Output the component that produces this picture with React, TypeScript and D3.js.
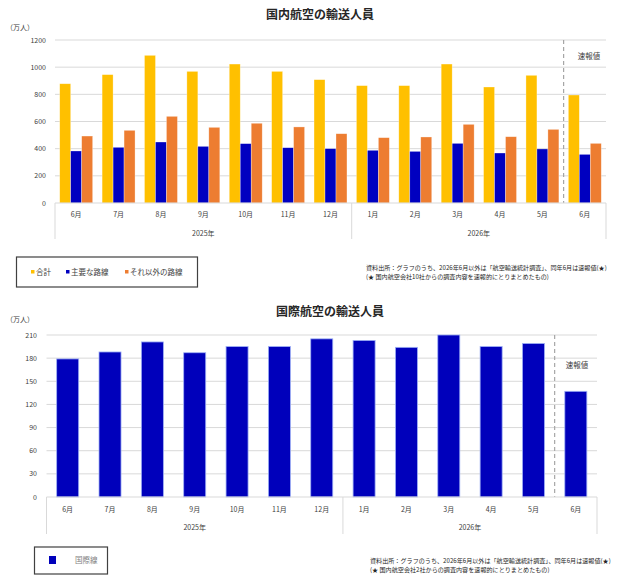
import * as d3 from 'd3';
import React from 'react';

// 国内・国際航空の輸送人員

const months = ['6月', '7月', '8月', '9月', '10月', '11月', '12月', '1月', '2月', '3月', '4月', '5月', '6月'];
const years = [
    { label: '2025年', from: 0, to: 6 },
    { label: '2026年', from: 7, to: 12 },
];

const domTotal = [878, 945, 1087, 969, 1023, 969, 908, 864, 864, 1023, 854, 940, 795];
const domMain = [383, 410, 449, 417, 437, 407, 400, 388, 380, 439, 368, 398, 358];
const domOther = [493, 535, 638, 557, 587, 560, 510, 481, 486, 579, 488, 542, 439];
const domTicks = [0, 200, 400, 600, 800, 1000, 1200];

const intl = [179, 188, 201, 187, 195, 195, 205, 203, 194, 210, 195, 199, 137];
const intlTicks = [0, 30, 60, 90, 120, 150, 180, 210];

const domSeries = [
    { name: '合計', values: domTotal, color: '#FFC000' },
    { name: '主要な路線', values: domMain, color: '#0000C0' },
    { name: 'それ以外の路線', values: domOther, color: '#ED7D31' },
];

const FONT = '"Noto Sans CJK JP", "Noto Sans", sans-serif';
const GRID = '#d9d9d9';
const TEXT = '#404040';

const AxisBlock = ({ x, base, bottom, labelY, yearY }: any) => {
    const n = months.length;
    const left = x(0);
    const right = (x(n - 1) as number) + x.bandwidth();
    return (
        <g>
            <line x1={left} x2={right} y1={base} y2={base} stroke={GRID} />
            <line x1={left} x2={left} y1={base} y2={bottom} stroke={GRID} />
            <line x1={right} x2={right} y1={base} y2={bottom} stroke={GRID} />
            {years.slice(1).map((yr, i) => (
                <line key={i} x1={x(yr.from)} x2={x(yr.from)} y1={base} y2={bottom} stroke={GRID} />
            ))}
            {months.map((m, i) => (
                <text key={i} x={(x(i) as number) + x.bandwidth() / 2} y={labelY} fontSize={7} fill={TEXT} textAnchor="middle">{m}</text>
            ))}
            {years.map((yr, i) => (
                <text key={i} x={((x(yr.from) as number) + (x(yr.to) as number) + x.bandwidth()) / 2} y={yearY} fontSize={7} fill={TEXT} textAnchor="middle">{yr.label}</text>
            ))}
        </g>
    );
};

export default () => {
    // --- 国内 ---
    const x1 = d3.scaleBand<number>().domain(d3.range(months.length)).range([55, 606]).padding(0);
    const sub = d3.scaleBand<string>().domain(domSeries.map((s) => s.name)).range([0, x1.bandwidth()]).paddingInner(0).paddingOuter(0.43);
    const y1 = d3.scaleLinear().domain([0, 1200]).range([203, 40]);
    const dash1 = x1(12) as number;

    // --- 国際 ---
    const x2 = d3.scaleBand<number>().domain(d3.range(months.length)).range([46.5, 597]).padding(0);
    const bw2 = x2.bandwidth() * 0.52;
    const y2 = d3.scaleLinear().domain([0, 210]).range([497, 335]);
    const dash2 = x2(12) as number;

    return (
        <svg width={640} height={580} style={{ position: 'absolute', left: 0, top: 0, background: '#fff' }} fontFamily={FONT}>
            {/* 国内航空 */}
            <text x={320} y={19} fontSize={12} fontWeight="bold" fill="#262626" textAnchor="middle">国内航空の輸送人員</text>
            <text x={6} y={30} fontSize={7} fill={TEXT}>（万人）</text>
            {domTicks.map((t) => (
                <g key={t}>
                    {t > 0 && <line x1={55} x2={606} y1={y1(t)} y2={y1(t)} stroke={GRID} />}
                    <text x={46} y={y1(t) + 2.5} fontSize={7} fill={TEXT} textAnchor="end">{t}</text>
                </g>
            ))}
            {domSeries.map((s) => (
                <g key={s.name}>
                    {s.values.map((v, i) => (
                        <rect key={i}
                            x={(x1(i) as number) + (sub(s.name) as number)}
                            y={y1(v)}
                            width={sub.bandwidth()}
                            height={y1(0) - y1(v)}
                            fill={s.color}
                            stroke="#ffffff" strokeOpacity={0.5} strokeWidth={0.6} />
                    ))}
                </g>
            ))}
            <line x1={dash1} x2={dash1} y1={40} y2={203} stroke="#a6a6a6" strokeDasharray="4,3" strokeWidth={1.2} />
            <text x={589} y={59} fontSize={7.5} fill={TEXT} textAnchor="middle">速報値</text>
            <AxisBlock x={x1} base={203} bottom={239} labelY={217} yearY={236} />

            <rect x={16.5} y={257} width={181} height={30} fill="#fff" stroke="#404040" strokeWidth={1.2} />
            {domSeries.map((s, i) => {
                const lx = [31, 66, 125][i];
                return (
                    <g key={s.name}>
                        <rect x={lx} y={270} width={3.5} height={3.5} fill={s.color} />
                        <text x={lx + 5} y={274.5} fontSize={7.5} fill={TEXT}>{s.name}</text>
                    </g>
                );
            })}
            <text x={366} y={270} fontSize={6.1} fill="#262626">資料出所：グラフのうち、2026年6月以外は「航空輸送統計調査」、同年6月は速報値(★)</text>
            <text x={366} y={279} fontSize={6.1} fill="#262626">(★ 国内航空会社10社からの調査内容を速報的にとりまとめたもの)</text>

            {/* 国際航空 */}
            <text x={330} y={316} fontSize={12} fontWeight="bold" fill="#262626" textAnchor="middle">国際航空の輸送人員</text>
            <text x={6} y={322} fontSize={7} fill={TEXT}>（万人）</text>
            {intlTicks.map((t) => (
                <g key={t}>
                    {t > 0 && <line x1={46.5} x2={597} y1={y2(t)} y2={y2(t)} stroke={GRID} />}
                    <text x={37} y={y2(t) + 2.5} fontSize={7} fill={TEXT} textAnchor="end">{t}</text>
                </g>
            ))}
            {intl.map((v, i) => (
                <rect key={i}
                    x={(x2(i) as number) + (x2.bandwidth() - bw2) / 2}
                    y={y2(v)}
                    width={bw2}
                    height={y2(0) - y2(v)}
                    fill="#0000BB"
                    stroke="#9fb0f5" strokeWidth={0.8} />
            ))}
            <line x1={dash2} x2={dash2} y1={335} y2={497} stroke="#a6a6a6" strokeDasharray="4,3" strokeWidth={1.2} />
            <text x={577} y={368} fontSize={7.5} fill={TEXT} textAnchor="middle">速報値</text>
            <AxisBlock x={x2} base={497} bottom={534} labelY={512} yearY={530} />

            <rect x={34.5} y={547} width={73} height={27} fill="#fff" stroke="#404040" strokeWidth={1.2} />
            <rect x={49} y={556} width={7} height={8} fill="#0000BB" />
            <text x={75} y={563} fontSize={7.5} fill="#7f7f7f">国際線</text>
            <text x={370} y={563} fontSize={6.1} fill="#262626">資料出所：グラフのうち、2026年6月以外は「航空輸送統計調査」、同年6月は速報値(★)</text>
            <text x={370} y={572} fontSize={6.1} fill="#262626">(★ 国内航空会社2社からの調査内容を速報的にとりまとめたもの)</text>
        </svg>
    );
};
